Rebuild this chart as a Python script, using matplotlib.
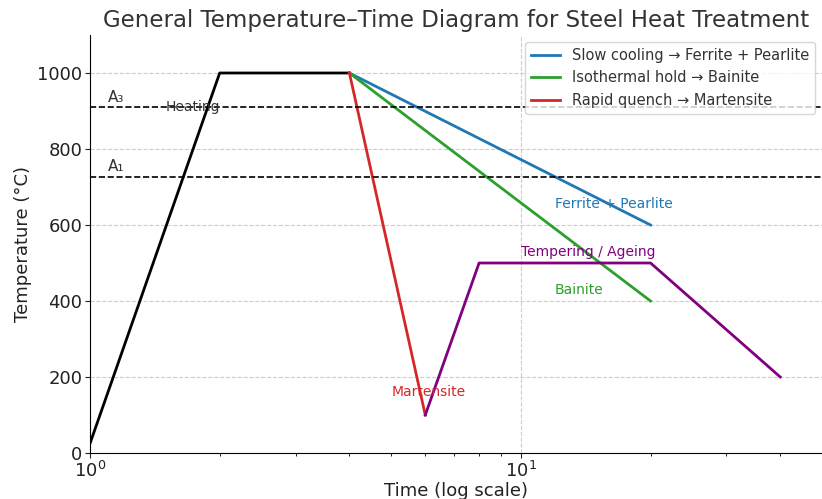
import matplotlib
matplotlib.use("Agg")
import matplotlib.pyplot as plt

heat_t = [1, 2, 4]
heat_T = [25, 1000, 1000]
slow_t = [4, 20]
slow_T = [1000, 600]
iso_t = [4, 20]
iso_T = [1000, 400]
quench_t = [4, 6]
quench_T = [1000, 100]
temper_t = [6, 8, 20, 40]
temper_T = [100, 500, 500, 200]
A3 = 910
A1 = 727

fig = plt.figure(figsize=(8.22, 4.99), dpi=100)
ax = fig.add_axes([90/822, 1-453/499, (822-90)/822, (453-35)/499])
ax.plot(heat_t, heat_T, color="black", lw=2)
ax.plot(slow_t, slow_T, color="#1f77b4", lw=2, label="Slow cooling → Ferrite + Pearlite")
ax.plot(iso_t, iso_T, color="#2ca02c", lw=2, label="Isothermal hold → Bainite")
ax.plot(quench_t, quench_T, color="#d62728", lw=2, label="Rapid quench → Martensite")
ax.plot(temper_t, temper_T, color="purple", lw=2)
ax.axhline(A3, color="black", ls="--", lw=1.2)
ax.axhline(A1, color="black", ls="--", lw=1.2)
ax.text(1.1, A3 + 15, "A₃", fontsize=11, color="#333333")
ax.text(1.1, A1 + 15, "A₁", fontsize=11, color="#333333")
ax.text(1.5, A3, "Heating", fontsize=10, color="#333333", va="center")
ax.text(12, 655, "Ferrite + Pearlite", fontsize=10, color="#1f77b4", va="center")
ax.text(10, 530, "Tempering / Ageing", fontsize=10, color="purple", va="center")
ax.text(12, 430, "Bainite", fontsize=10, color="#2ca02c", va="center")
ax.text(5, 160, "Martensite", fontsize=10, color="#d62728", va="center")
ax.set_xscale("log")
ax.set_xlim(1, 50)
ax.set_ylim(0, 1100)
ax.grid(True, ls="--", color="#cccccc", lw=0.8)
ax.spines["top"].set_visible(False)
ax.spines["right"].set_visible(False)
ax.tick_params(labelsize=13, colors="#222222", pad=2)
ax.set_xlabel("Time (log scale)", fontsize=13, labelpad=1, color="#222222")
ax.set_ylabel("Temperature (°C)", fontsize=13, labelpad=4, color="#222222")
ax.set_title("General Temperature–Time Diagram for Steel Heat Treatment", fontsize=16.5, color="#333333")
leg = ax.legend(loc="upper right", fontsize=10.5)
for t in leg.get_texts():
    t.set_color("#333333")
fig.savefig("out.png", dpi=100)
